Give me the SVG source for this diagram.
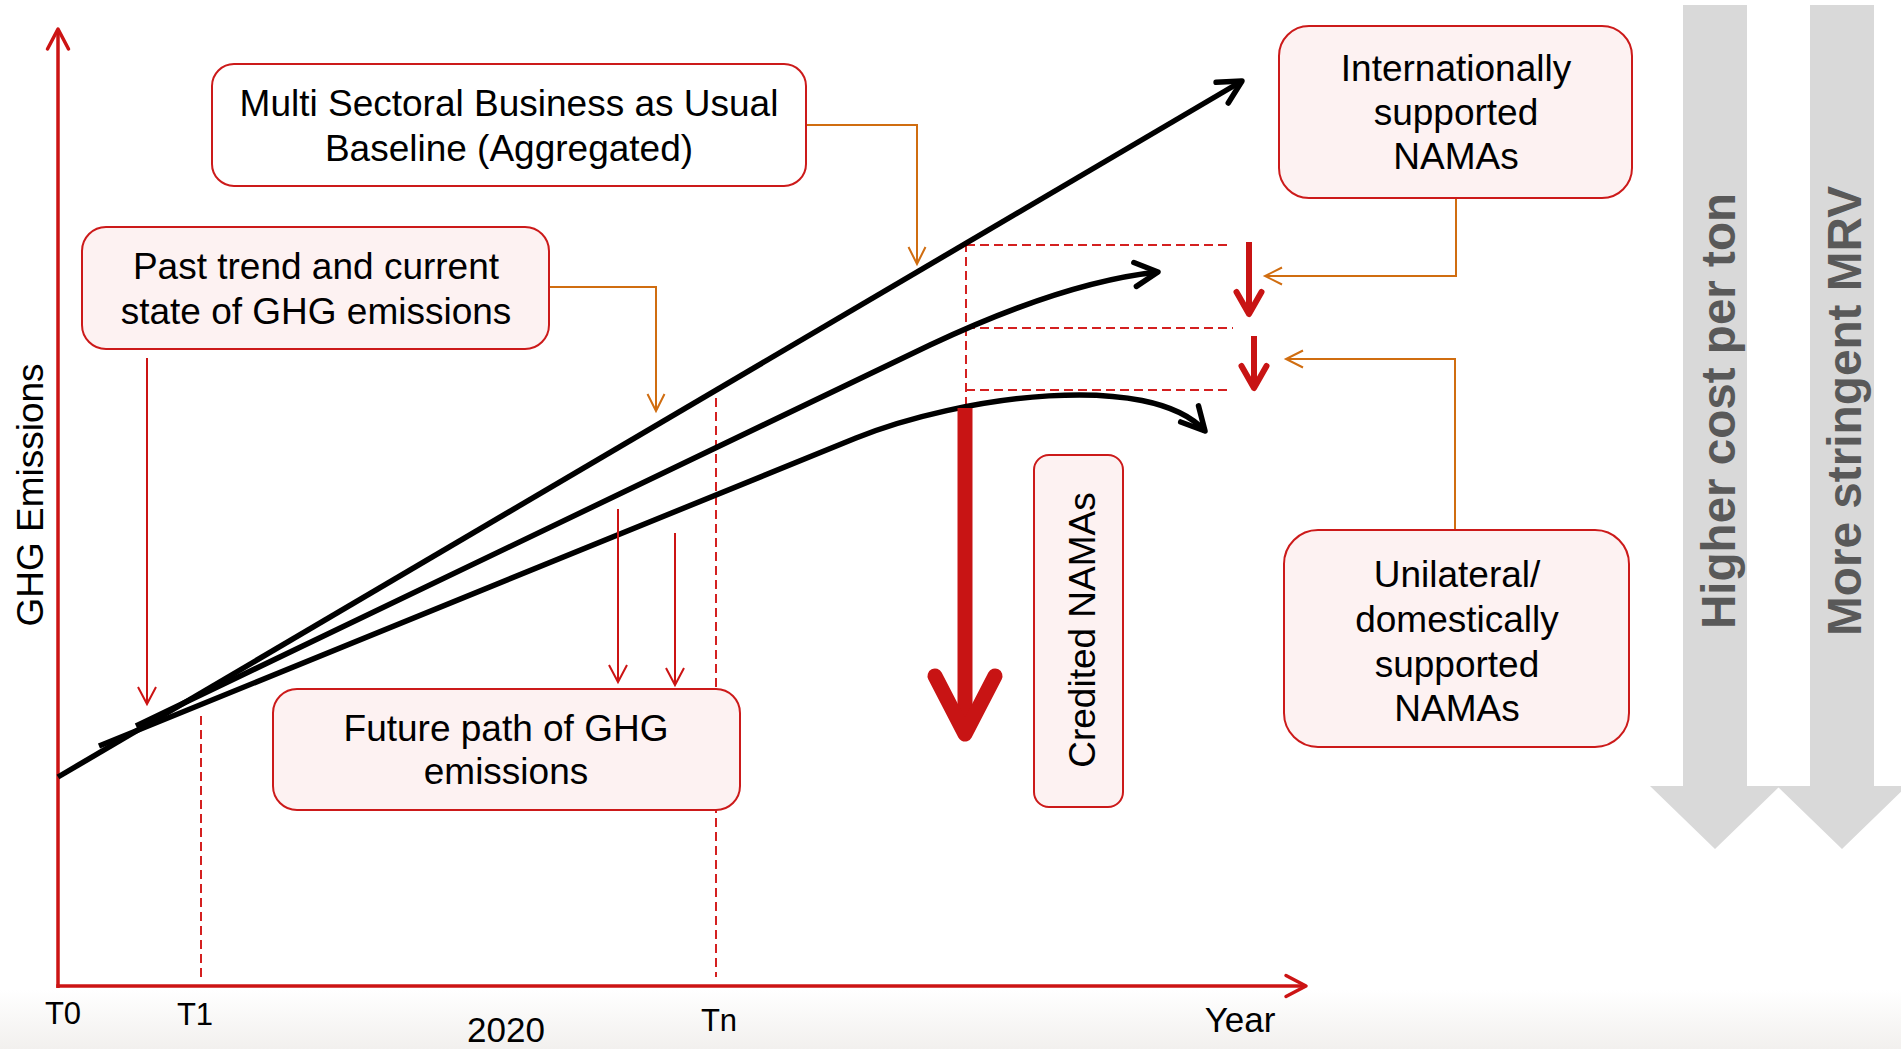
<svg xmlns="http://www.w3.org/2000/svg" width="1901" height="1049" viewBox="0 0 1901 1049">
  <style>
    .box { fill: #fdf2f2; stroke: #cc1a1a; stroke-width: 2; }
    .boxw { fill: #ffffff; stroke: #cc1a1a; stroke-width: 2; }
    .lbl { font-family: "Liberation Sans", Arial, sans-serif; font-size: 37px; fill: #000; text-anchor: middle; }
    .tick { font-family: "Liberation Sans", Arial, sans-serif; font-size: 31px; fill: #000; text-anchor: middle; }
    .gray { font-family: "Liberation Sans", Arial, sans-serif; font-size: 48px; font-weight: bold; fill: #595959; text-anchor: middle; }
    .axis { stroke: #cc1414; stroke-width: 3.5; fill: none; }
    .dash { stroke: #d42020; stroke-width: 2; fill: none; stroke-dasharray: 9 5; }
    .thin { stroke: #cc1414; stroke-width: 2; fill: none; }
    .orange { stroke: #d06d10; stroke-width: 2; fill: none; }
    .black { stroke: #000; stroke-width: 5.5; fill: none; }
    .med { stroke: #c81414; stroke-width: 6; fill: none; }
    .big { stroke: #c81414; stroke-width: 15; fill: none; }
  </style>
  <defs>
    <linearGradient id="bg" x1="0" y1="0" x2="0" y2="1">
      <stop offset="0" stop-color="#ffffff"/>
      <stop offset="1" stop-color="#f2f0ee"/>
    </linearGradient>
    <marker id="mAxis" markerUnits="userSpaceOnUse" orient="auto" refX="0" refY="0" markerWidth="60" markerHeight="60" overflow="visible">
      <path d="M-20,-10.5 L0,0 L-20,10.5" fill="none" stroke="#cc1414" stroke-width="3.5" stroke-linecap="round" stroke-linejoin="round"/>
    </marker>
    <marker id="mThin" markerUnits="userSpaceOnUse" orient="auto" refX="0" refY="0" markerWidth="60" markerHeight="60" overflow="visible">
      <path d="M-17,-9 L0,0 L-17,9" fill="none" stroke="#cc1414" stroke-width="2"/>
    </marker>
    <marker id="mOrange" markerUnits="userSpaceOnUse" orient="auto" refX="0" refY="0" markerWidth="60" markerHeight="60" overflow="visible">
      <path d="M-17,-8.5 L0,0 L-17,8.5" fill="none" stroke="#d06d10" stroke-width="2"/>
    </marker>
    <marker id="mBlack" markerUnits="userSpaceOnUse" orient="auto" refX="0" refY="0" markerWidth="60" markerHeight="60" overflow="visible">
      <path d="M-23,-12 L0,0 L-23,12" fill="none" stroke="#000" stroke-width="5.5" stroke-linecap="round" stroke-linejoin="round"/>
    </marker>
    <marker id="mMed" markerUnits="userSpaceOnUse" orient="auto" refX="0" refY="0" markerWidth="60" markerHeight="60" overflow="visible">
      <path d="M-22,-12.5 L0,0 L-22,12.5" fill="none" stroke="#c81414" stroke-width="6" stroke-linecap="round" stroke-linejoin="round"/>
    </marker>
    <marker id="mBig" markerUnits="userSpaceOnUse" orient="auto" refX="0" refY="0" markerWidth="150" markerHeight="150" overflow="visible">
      <path d="M-58,-30 L0,0 L-58,30" fill="none" stroke="#c81414" stroke-width="15" stroke-linecap="round" stroke-linejoin="round"/>
    </marker>
  </defs>

  <rect x="0" y="990" width="1901" height="59" fill="url(#bg)"/>

  <!-- gray side arrows -->
  <g id="cost-arrow">
    <polygon points="1683,5 1747,5 1747,786 1780,786 1715,849 1650,786 1683,786" fill="#d9d9d9"/>
    <text class="gray" transform="translate(1735,411) rotate(-90)" textLength="436" lengthAdjust="spacingAndGlyphs">Higher cost per ton</text>
  </g>
  <g id="mrv-arrow">
    <polygon points="1810,5 1874,5 1874,786 1907,786 1842,849 1777,786 1810,786" fill="#d9d9d9"/>
    <text class="gray" transform="translate(1861,411) rotate(-90)" textLength="450" lengthAdjust="spacingAndGlyphs">More stringent MRV</text>
  </g>

  <!-- axes -->
  <g id="axes">
    <line class="axis" x1="58" y1="988" x2="58" y2="29" marker-end="url(#mAxis)"/>
    <line class="axis" x1="56.3" y1="986" x2="1306" y2="986" marker-end="url(#mAxis)"/>
    <text class="lbl" transform="translate(43,495) rotate(-90)">GHG Emissions</text>
    <text class="tick" x="63" y="1024">T0</text>
    <text class="tick" x="195" y="1025">T1</text>
    <text class="lbl" x="506" y="1042" style="font-size:35px">2020</text>
    <text class="tick" x="719" y="1031">Tn</text>
    <text class="lbl" x="1240" y="1032" style="font-size:35px">Year</text>
  </g>

  <!-- connectors -->
  <g id="connectors">
    <!-- guide dashed lines -->
    <line class="dash" x1="201" y1="716" x2="201" y2="977"/>
    <line class="dash" x1="716" y1="398" x2="716" y2="977"/>
    <line class="dash" x1="966" y1="243" x2="966" y2="405"/>
    <line class="dash" x1="966" y1="245" x2="1231" y2="245"/>
    <line class="dash" x1="966" y1="328" x2="1233" y2="328"/>
    <line class="dash" x1="966" y1="390" x2="1230" y2="390"/>

    <!-- emission paths -->
    <line class="black" x1="58" y1="777" x2="1242" y2="81" marker-end="url(#mBlack)"/>
    <path class="black" d="M136,726 L930,345 Q1064,282 1158,272" marker-end="url(#mBlack)"/>
    <path class="black" d="M99,746 L856,438 C960,396 1150,370 1205,431" marker-end="url(#mBlack)"/>

    <!-- reduction arrows -->
    <line class="big" x1="965" y1="408" x2="965" y2="734" marker-end="url(#mBig)"/>
    <line class="med" x1="1249" y1="242" x2="1249" y2="314" marker-end="url(#mMed)"/>
    <line class="med" x1="1254" y1="336" x2="1254" y2="388" marker-end="url(#mMed)"/>

    <!-- thin red pointers -->
    <line class="thin" x1="147" y1="358" x2="147" y2="704" marker-end="url(#mThin)"/>
    <line class="thin" x1="618" y1="509" x2="618" y2="682" marker-end="url(#mThin)"/>
    <line class="thin" x1="675" y1="533" x2="675" y2="685" marker-end="url(#mThin)"/>

    <!-- orange callouts -->
    <polyline class="orange" points="806,125 917,125 917,264" marker-end="url(#mOrange)"/>
    <polyline class="orange" points="549,287 656,287 656,411" marker-end="url(#mOrange)"/>
    <polyline class="orange" points="1456,198 1456,276 1265,276" marker-end="url(#mOrange)"/>
    <polyline class="orange" points="1455,530 1455,359 1286,359" marker-end="url(#mOrange)"/>
  </g>

  <!-- nodes -->
  <g id="node-bau">
    <rect class="boxw" x="212" y="64" width="594" height="122" rx="22"/>
    <text class="lbl" x="509" y="116">Multi Sectoral Business as Usual</text>
    <text class="lbl" x="509" y="161">Baseline (Aggregated)</text>
  </g>
  <g id="node-past">
    <rect class="box" x="82" y="227" width="467" height="122" rx="24"/>
    <text class="lbl" x="316" y="279">Past trend and current</text>
    <text class="lbl" x="316" y="324">state of GHG emissions</text>
  </g>
  <g id="node-future">
    <rect class="box" x="273" y="689" width="467" height="121" rx="24"/>
    <text class="lbl" x="506" y="741">Future path of GHG</text>
    <text class="lbl" x="506" y="784">emissions</text>
  </g>
  <g id="node-credited">
    <rect class="box" x="1034" y="455" width="89" height="352" rx="15"/>
    <text class="lbl" transform="translate(1095,630) rotate(-90)">Credited NAMAs</text>
  </g>
  <g id="node-international">
    <rect class="box" x="1279" y="26" width="353" height="172" rx="30"/>
    <text class="lbl" x="1456" y="81">Internationally</text>
    <text class="lbl" x="1456" y="125">supported</text>
    <text class="lbl" x="1456" y="169">NAMAs</text>
  </g>
  <g id="node-unilateral">
    <rect class="box" x="1284" y="530" width="345" height="217" rx="34"/>
    <text class="lbl" x="1457" y="587">Unilateral/</text>
    <text class="lbl" x="1457" y="632">domestically</text>
    <text class="lbl" x="1457" y="677">supported</text>
    <text class="lbl" x="1457" y="721">NAMAs</text>
  </g>
</svg>
